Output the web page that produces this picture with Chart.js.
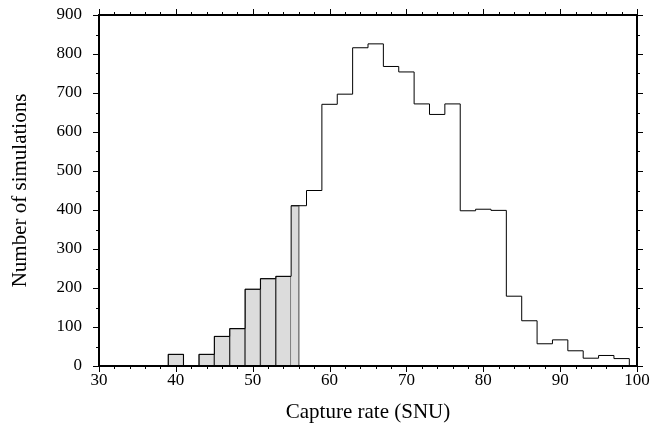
<!DOCTYPE html>
<html>
<head>
<meta charset="utf-8">
<script src="https://cdn.jsdelivr.net/npm/chart.js@4/dist/chart.umd.min.js"></script>
<style>
  html, body { margin: 0; padding: 0; background: #fff; }
  #wrap { width: 652px; height: 427px; }
</style>
</head>
<body>
<div id="wrap"><canvas id="hist"></canvas></div>
<script>
// histogram bins (left edges, width 2 SNU) and counts
const binStarts = [31, 33, 35, 37, 39, 41, 43, 45, 47, 49, 51, 53, 55, 57, 59, 61, 63,
  65, 67, 69, 71, 73, 75, 77, 79, 81, 83, 85, 87, 89, 91, 93, 95, 97];
const counts = [0, 0, 0, 0, 30, 0, 30, 76, 96, 197, 224, 230, 411, 450, 671, 697, 816,
  826, 768, 754, 672, 645, 672, 398, 402, 399, 179, 116, 57, 67, 39, 20, 27, 19];
const binWidth = 2;
const shadeLimit = 56; // grey part of the distribution stops here
const xTicks = [30, 40, 50, 60, 70, 80, 90, 100];
const yTicks = [0, 100, 200, 300, 400, 500, 600, 700, 800, 900];

const serif = "'Liberation Serif', 'DejaVu Serif', serif";

// outline (step) of the full histogram
const stepPoints = [{ x: 30, y: 0 }];
binStarts.forEach((s, i) => stepPoints.push({ x: s, y: counts[i] }));
const lastEdge = binStarts[binStarts.length - 1] + binWidth;
stepPoints.push({ x: lastEdge, y: 0 });
stepPoints.push({ x: 100, y: 0 });

// shaded full bins
const shadedBars = [];
let sliver = [];
binStarts.forEach((s, i) => {
  if (s + binWidth <= shadeLimit) {
    if (counts[i] > 0) shadedBars.push({ x: s + binWidth / 2, y: counts[i] });
  } else if (s < shadeLimit) {
    sliver = [{ x: s, y: counts[i] }, { x: shadeLimit, y: counts[i] }, { x: shadeLimit, y: 0 }];
  }
});

// frame + tick marks on all four sides
const framePlugin = {
  id: 'frame',
  afterDraw(chart) {
    const ctx = chart.ctx;
    const a = chart.chartArea;
    const xs = chart.scales.x, ys = chart.scales.y;
    ctx.save();
    ctx.strokeStyle = '#000';
    ctx.lineWidth = 1;
    ctx.beginPath();
    for (let v = 30; v <= 100; v += 2) {
      const px = Math.round(xs.getPixelForValue(v)) + 0.5;
      const len = v % 10 === 0 ? 6 : 3;
      ctx.moveTo(px, a.bottom); ctx.lineTo(px, a.bottom + len);
      ctx.moveTo(px, a.top); ctx.lineTo(px, a.top - len);
    }
    for (let v = 0; v <= 900; v += 50) {
      const py = Math.round(ys.getPixelForValue(v)) + 0.5;
      const len = v % 100 === 0 ? 6 : 3;
      ctx.moveTo(a.left, py); ctx.lineTo(a.left - len, py);
      ctx.moveTo(a.right, py); ctx.lineTo(a.right + len, py);
    }
    ctx.stroke();
    ctx.lineWidth = 2;
    ctx.strokeRect(a.left, a.top, a.right - a.left, a.bottom - a.top);
    ctx.restore();
  }
};

new Chart(document.getElementById('hist'), {
  type: 'line',
  data: {
    datasets: [
      {
        type: 'line',
        data: stepPoints,
        stepped: 'before',
        borderColor: '#000',
        borderWidth: 1,
        pointRadius: 0,
        fill: false,
        order: 0
      },
      {
        type: 'line',
        data: sliver,
        borderColor: '#7a7a7a',
        borderWidth: 1.5,
        backgroundColor: '#dcdcdc',
        pointRadius: 0,
        fill: 'origin',
        order: 1
      },
      {
        type: 'bar',
        data: shadedBars,
        backgroundColor: '#dcdcdc',
        borderColor: '#333',
        borderWidth: 1,
        barPercentage: 1,
        categoryPercentage: 1,
        grouped: false,
        order: 2
      }
    ]
  },
  options: {
    responsive: true,
    maintainAspectRatio: false,
    animation: false,
    layout: { padding: { top: 15, right: 15, left: 0, bottom: 0 } },
    plugins: { legend: { display: false }, tooltip: { enabled: false } },
    scales: {
      x: {
        type: 'linear',
        min: 30, max: 100,
        offset: false,
        grid: { display: false, drawTicks: false, offset: false },
        border: { display: false },
        afterBuildTicks: s => { s.ticks = xTicks.map(v => ({ value: v })); },
        afterFit: s => { s.height = 61; s.paddingLeft = 0; s.paddingRight = 0; },
        ticks: { color: '#000', padding: 4, maxRotation: 0, font: { family: serif, size: 17 } },
        title: { display: true, text: 'Capture rate (SNU)', color: '#000', padding: { top: 0, bottom: 2 }, font: { family: serif, size: 21 } }
      },
      y: {
        min: 0, max: 900,
        grid: { display: false, drawTicks: false },
        border: { display: false },
        afterBuildTicks: s => { s.ticks = yTicks.map(v => ({ value: v })); },
        afterFit: s => { s.width = 99; s.paddingTop = 0; s.paddingBottom = 0; },
        ticks: { color: '#000', padding: 17, font: { family: serif, size: 17 } },
        title: { display: true, text: 'Number of simulations', color: '#000', padding: { top: 8, bottom: 0 }, font: { family: serif, size: 21 } }
      }
    }
  },
  plugins: [framePlugin]
});
</script>
</body>
</html>
